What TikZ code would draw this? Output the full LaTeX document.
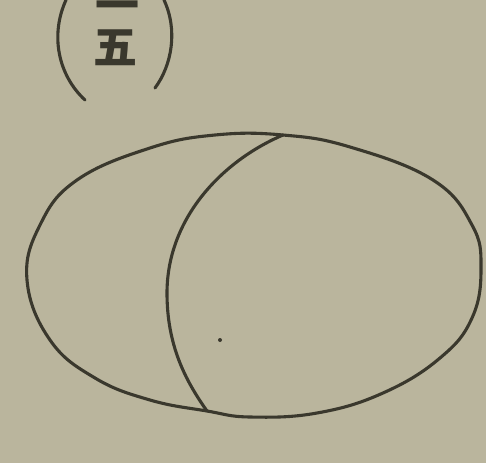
\documentclass[tikz,border=0pt]{standalone}
\usepackage{fontspec}
\newfontfamily\cjk{Noto Sans CJK SC}
\definecolor{paper}{RGB}{186,181,157}
\definecolor{ink}{RGB}{58,56,45}
\begin{document}
\begin{tikzpicture}[x=1pt,y=-1pt,
  stroke/.style={draw=ink,line width=3.1pt,line cap=round,line join=round},
  glyph/.style={text=ink,font=\cjk\bfseries\fontsize{44}{44}\selectfont,inner sep=0pt}]
\fill[paper] (0,0) rectangle (486,463);
\useasboundingbox (0,0) rectangle (486,463);
% page number in parentheses
\node[glyph,anchor=base] (one) at (117,21) {一};
\node[glyph] (five) at (115,48) {五};
\draw[stroke] (66,0) .. controls (50,35) and (58,75) .. (85,100);
\draw[stroke] (164,0) .. controls (178,30) and (172,65) .. (155,88);
% outer oval
\draw[stroke] plot[smooth cycle,tension=0.7] coordinates {
  (27,280) (40,225) (77,180) (150,148) (215,135) (283,135) (350,147)
  (433,180) (472,225) (481,268) (472,318) (440,358) (383,393)
  (317,413) (250,417) (207,411) (150,400) (95,378) (50,340)};
% inner arc
\coordinate (top) at (283,135);
\coordinate (left) at (167,293);
\coordinate (bot) at (207,411);
\draw[stroke] (top) .. controls (220,162) and (167,220) .. (left)
  .. controls (167,345) and (185,380) .. (bot);
% small dot
\fill[ink] (220,340) circle (2pt);
\end{tikzpicture}
\end{document}
